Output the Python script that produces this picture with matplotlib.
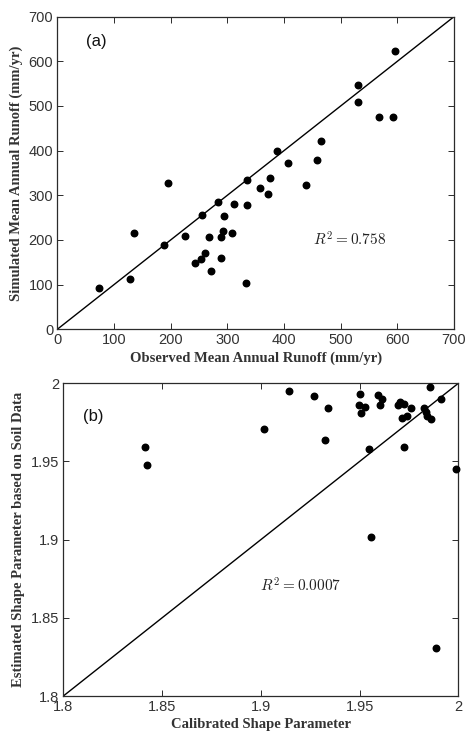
import numpy as np
import matplotlib
matplotlib.use('Agg')
import matplotlib.pyplot as plt

##################
## data

# (a) mean annual runoff (mm/yr)
obs_runoff = [73, 128, 135, 188, 195, 225, 243, 254, 256, 260, 268, 272,
              284, 288, 288, 293, 295, 308, 312, 333, 335, 335, 358, 371,
              376, 387, 407, 439, 459, 465, 530, 531, 568, 593, 596]
sim_runoff = [93, 113, 216, 189, 328, 208, 148, 157, 256, 171, 207, 131,
              286, 160, 206, 219, 254, 215, 281, 103, 334, 278, 316, 302,
              338, 399, 372, 322, 380, 422, 509, 546, 475, 475, 623]
r2_a = '0.758'

# (b) shape parameter
cal_shape = [1.8412, 1.8422, 1.9016, 1.9141, 1.9269, 1.9325, 1.9338, 1.9504,
             1.9499, 1.9509, 1.9526, 1.9549, 1.9556, 1.9593, 1.9613, 1.9603,
             1.9696, 1.9706, 1.9727, 1.9716, 1.9740, 1.9723, 1.9760, 1.9828,
             1.9835, 1.9841, 1.9855, 1.9863, 1.9911, 1.9889, 1.9986]
est_shape = [1.9591, 1.9480, 1.9710, 1.9949, 1.9921, 1.9640, 1.9840, 1.9930,
             1.9859, 1.9810, 1.9849, 1.9580, 1.9019, 1.9923, 1.9900, 1.9859,
             1.9859, 1.9881, 1.9870, 1.9778, 1.9791, 1.9591, 1.9840, 1.9840,
             1.9819, 1.9791, 1.9979, 1.9770, 1.9900, 1.8309, 1.9450]
r2_b = '0.0007'

ticks_a = [0, 100, 200, 300, 400, 500, 600, 700]
ticks_b = [1.8, 1.85, 1.9, 1.95, 2.0]
ticklabels_b = ['1.8', '1.85', '1.9', '1.95', '2']

#####################
## style
plt.rcParams['font.family'] = ['Liberation Sans', 'DejaVu Sans']
plt.rcParams['mathtext.fontset'] = 'cm'

label_font = dict(family='Liberation Serif', weight='bold', size=10.5)
tick_color = '#2b2b2b'


def style_axes(ax):
    ax.tick_params(direction='in', top=True, right=True, length=4,
                   width=0.7, labelsize=10.5, colors=tick_color,
                   labelcolor='#333333', pad=3)
    for sp in ax.spines.values():
        sp.set_linewidth(0.9)
        sp.set_color(tick_color)


fig = plt.figure(figsize=(4.67, 7.38), dpi=100)

###################
## (a)
ax1 = fig.add_axes([0.1227, 0.5538, 0.8494, 0.4236])
ax1.plot([0, 700], [0, 700], color='black', lw=1.0)
ax1.scatter(obs_runoff, sim_runoff, s=22, color='black', zorder=3)
ax1.set_xlim(0, 700)
ax1.set_ylim(0, 700)
ax1.set_xticks(ticks_a)
ax1.set_yticks(ticks_a)
style_axes(ax1)
ax1.set_xlabel('Observed Mean Annual Runoff (mm/yr)', fontdict=label_font,
               color='#333333', labelpad=3)
ax1.set_ylabel('Simulated Mean Annual Runoff (mm/yr)', fontdict=label_font,
               color='#333333', labelpad=4)
ax1.text(50, 645, '(a)', fontsize=12, va='center', ha='left', color='#111111')
ax1.text(452, 201, r'$R^2 = ' + r2_a + '$', fontsize=11, va='center', ha='left',
         color='#222222')

###################
## (b)
ax2 = fig.add_axes([0.1356, 0.0569, 0.8458, 0.4237])
ax2.plot([1.8, 2.0], [1.8, 2.0], color='black', lw=1.0)
ax2.scatter(cal_shape, est_shape, s=22, color='black', zorder=3, clip_on=False)
ax2.set_xlim(1.8, 2.0)
ax2.set_ylim(1.8, 2.0)
ax2.set_xticks(ticks_b)
ax2.set_xticklabels(ticklabels_b)
ax2.set_yticks(ticks_b)
ax2.set_yticklabels(ticklabels_b)
style_axes(ax2)
ax2.set_xlabel('Calibrated Shape Parameter', fontdict=label_font,
               color='#333333', labelpad=3)
ax2.set_ylabel('Estimated Shape Parameter based on Soil Data', fontdict=label_font,
               color='#333333', labelpad=4)
ax2.text(1.8098, 1.9787, '(b)', fontsize=12, va='center', ha='left', color='#111111')
ax2.text(1.8996, 1.8704, r'$R^2 = ' + r2_b + '$', fontsize=11, va='center', ha='left',
         color='#222222')

plt.savefig('out.png', dpi=100)
plt.close()
